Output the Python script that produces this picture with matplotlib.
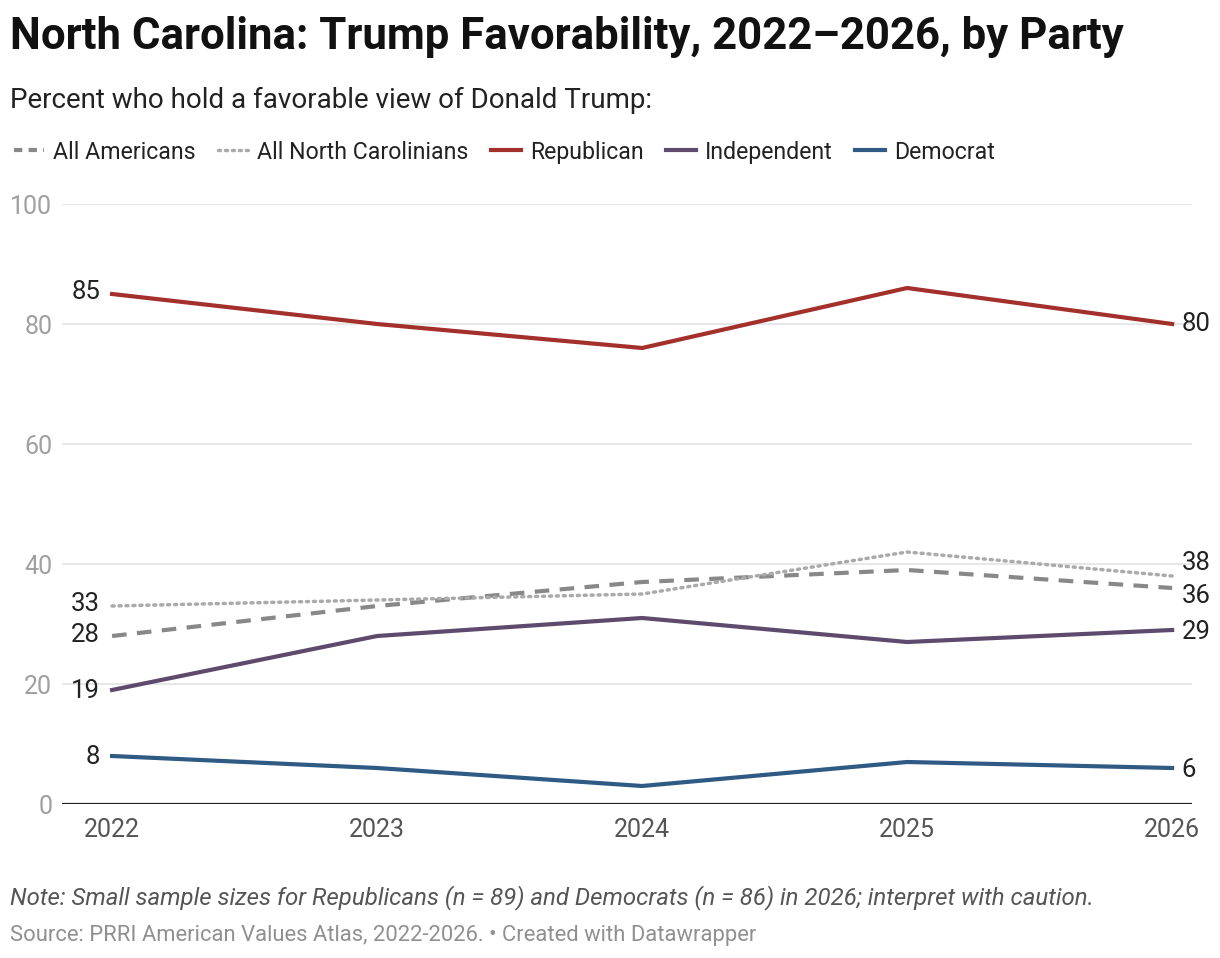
import numpy as np
import matplotlib.pyplot as plt
from matplotlib.lines import Line2D

plt.rcParams['font.family'] = ['Roboto', 'DejaVu Sans']

years = [2022, 2023, 2024, 2025, 2026]
all_americans = [28, 33, 37, 39, 36]
all_nc = [33, 34, 35, 42, 38]
republican = [85, 80, 76, 86, 80]
independent = [19, 28, 31, 27, 29]
democrat = [8, 6, 3, 7, 6]

W, H = 1220, 958
fig = plt.figure(figsize=(W / 100, H / 100), dpi=100)
ax = fig.add_axes([62 / W, 1 - 804 / H, (1192 - 62) / W, 600 / H])

# gridlines
for v in [20, 40, 60, 80, 100]:
    ax.axhline(v, color='#e3e3e3', lw=1.2, zorder=0)
ax.axhline(0, color='#222222', lw=1.6, zorder=1)

ax.plot(years, all_americans, color='#888888', lw=3, ls=(0, (3.5, 2.5)), clip_on=False, zorder=3)
ax.plot(years, all_nc, color='#aaaaaa', lw=2.5, ls=(0, (0.6, 1.4)), dash_capstyle='round', clip_on=False, zorder=3)
ax.plot(years, republican, color='#a3302b', lw=3, clip_on=False, zorder=4)
ax.plot(years, independent, color='#5d4a6c', lw=3, clip_on=False, zorder=4)
ax.plot(years, democrat, color='#2e5a84', lw=3, clip_on=False, zorder=4)

ax.set_xlim(2021.811, 2026.075)
ax.set_ylim(0, 100)
for s in ax.spines.values():
    s.set_visible(False)
ax.set_yticks([0, 20, 40, 60, 80, 100])
ax.tick_params(axis='y', length=0, pad=7, labelsize=18, labelcolor='#a0a0a0')
ax.set_xticks(years)
ax.tick_params(axis='x', length=0, pad=10, labelsize=18, labelcolor='#555555')

# end labels
lab = dict(fontsize=18.5, color='#222222', va='center')
ax.text(years[0] - 0.045, republican[0] + 0.4, str(republican[0]), ha='right', **lab)
ax.text(years[0] - 0.045, all_nc[0] + 0.4, str(all_nc[0]), ha='right', **lab)
ax.text(years[0] - 0.045, all_americans[0] + 0.1, str(all_americans[0]), ha='right', **lab)
ax.text(years[0] - 0.045, independent[0] - 0.1, str(independent[0]), ha='right', **lab)
ax.text(years[0] - 0.045, democrat[0] - 0.1, str(democrat[0]), ha='right', **lab)
ax.text(years[-1] + 0.035, republican[-1], str(republican[-1]), ha='left', **lab)
ax.text(years[-1] + 0.035, all_nc[-1] + 2.2, str(all_nc[-1]), ha='left', **lab)
ax.text(years[-1] + 0.035, all_americans[-1] - 1.4, str(all_americans[-1]), ha='left', **lab)
ax.text(years[-1] + 0.035, independent[-1] - 0.4, str(independent[-1]), ha='left', **lab)
ax.text(years[-1] + 0.035, democrat[-1] - 0.3, str(democrat[-1]), ha='left', **lab)

fig.text(10 / W, 1 - 37 / H, 'North Carolina: Trump Favorability, 2022\u20132026, by Party',
         fontsize=31.5, fontweight='bold', color='#111111', va='center')
fig.text(10 / W, 1 - 100 / H, 'Percent who hold a favorable view of Donald Trump:',
         fontsize=20, color='#222222', va='center')

# legend
handles = [
    Line2D([], [], color='#888888', lw=3, ls=(0, (2, 1.5))),
    Line2D([], [], color='#aaaaaa', lw=2.5, ls=(0, (0.6, 1.4)), dash_capstyle='round'),
    Line2D([], [], color='#a3302b', lw=3),
    Line2D([], [], color='#5d4a6c', lw=3),
    Line2D([], [], color='#2e5a84', lw=3),
]
names = ['All Americans', 'All North Carolinians', 'Republican', 'Independent', 'Democrat']
fig.legend(handles, names, loc='center left', bbox_to_anchor=(0 / W, 1 - 152 / H),
           ncol=5, frameon=False, fontsize=16.7, handlelength=1.3, handletextpad=0.4,
           columnspacing=0.95, labelcolor='#222222', borderaxespad=0.2)

fig.text(10 / W, 1 - 898 / H,
         'Note: Small sample sizes for Republicans (n = 89) and Democrats (n = 86) in 2026; interpret with caution.',
         fontsize=17.25, style='italic', color='#555555', va='center')
fig.text(10 / W, 1 - 935 / H, 'Source: PRRI American Values Atlas, 2022-2026. \u2022 Created with Datawrapper',
         fontsize=15.85, color='#909090', va='center')

fig.savefig('out.png', dpi=100)
